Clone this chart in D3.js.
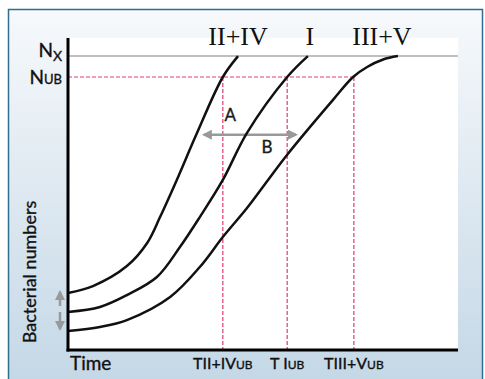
<!DOCTYPE html>
<html>
<head>
<meta charset="utf-8">
<script src="https://cdn.jsdelivr.net/npm/d3@7"></script>
<style>
  body { margin: 0; background: #fff; }
  .serif { font-family: 'Liberation Serif', 'DejaVu Serif', serif; }
  .sans { font-family: Lato, 'Open Sans', sans-serif; stroke: #111; stroke-width: 0.35px; }
</style>
</head>
<body>
<svg id="chart" width="485" height="379"></svg>
<script>
// growth curves: time (0-100) vs log bacterial numbers (0-100)
const seriesNames = ["II+IV", "I", "III+V"];
const curveII_IV = [[0, 18.3], [6.4, 20.5], [15.1, 26.9], [20.3, 34.3], [23.6, 42.6], [27.9, 54.5], [33.1, 69.6], [39.7, 87.5], [43.6, 94.2]];
const curveI = [[0, 12.2], [8.2, 13.8], [15.1, 17.6], [22.8, 23.4], [28.7, 33.0], [33.8, 42.6], [39.7, 54.5], [45.9, 69.6], [56.2, 87.5], [61.5, 94.2]];
const curveIII_V = [[0, 6.1], [8.2, 7.4], [15.1, 9.6], [26.2, 17.0], [33.8, 26.6], [39.7, 36.2], [45.9, 45.5], [51.3, 54.5], [56.2, 62.6], [67.9, 80.1], [73.1, 87.5], [76.7, 90.7], [80.8, 93.1], [84.6, 94.2]];
const labelTimes = [43.6, 62.0, 80.5];   // where the series names sit
const nX = 94.2;
const nUB = 87.5;
const ubTimes = [39.7, 56.2, 73.3];
const ubLabels = [["TII+IV", "UB"], ["T I", "UB"], ["TIII+V", "UB"]];
const arrowAB = [33.3, 60.0, 69.0];      // from, to, level

const svg = d3.select("#chart");

const x = d3.scaleLinear().domain([0, 100]).range([68, 458]);
const y = d3.scaleLinear().domain([0, 100]).range([350, 38]);

// background panel
const defs = svg.append("defs");
const grad = defs.append("linearGradient").attr("id", "bg")
  .attr("x1", 0).attr("y1", 0).attr("x2", 0).attr("y2", 1);
grad.append("stop").attr("offset", "0%").attr("stop-color", "#f7f9fb");
grad.append("stop").attr("offset", "100%").attr("stop-color", "#c3d7e6");

defs.append("marker").attr("id", "head")
  .attr("viewBox", "0 0 10 10").attr("refX", 8).attr("refY", 5)
  .attr("markerWidth", 4).attr("markerHeight", 4).attr("orient", "auto-start-reverse")
  .append("path").attr("d", "M0,0 L10,5 L0,10 z").attr("fill", "#999");

svg.append("rect").attr("x", 8.5).attr("y", 9.5).attr("width", 474).attr("height", 380)
  .attr("fill", "url(#bg)").attr("stroke", "#2f6e8f").attr("stroke-width", 1.5);

svg.append("rect").attr("x", x(0)).attr("y", y(100))
  .attr("width", x(100) - x(0)).attr("height", y(0) - y(100)).attr("fill", "#fff");

// N_X line
svg.append("line").attr("x1", x(0)).attr("x2", x(100))
  .attr("y1", y(nX)).attr("y2", y(nX)).attr("stroke", "#aaa").attr("stroke-width", 1.5);

// N_UB and time markers
const pink = "#e03a72";
svg.append("line").attr("x1", x(0)).attr("x2", x(d3.max(ubTimes)))
  .attr("y1", y(nUB)).attr("y2", y(nUB))
  .attr("stroke", pink).attr("stroke-width", 1.2).attr("stroke-dasharray", "4,2");
svg.selectAll(".ub").data(ubTimes).join("line")
  .attr("x1", d => x(d)).attr("x2", d => x(d))
  .attr("y1", y(nUB)).attr("y2", y(0))
  .attr("stroke", pink).attr("stroke-width", 1.2).attr("stroke-dasharray", "4,2");

// A/B arrow
svg.append("line").attr("x1", x(arrowAB[0]) + 6).attr("x2", x(arrowAB[1]) - 6)
  .attr("y1", y(arrowAB[2])).attr("y2", y(arrowAB[2]))
  .attr("stroke", "#999").attr("stroke-width", 2.5)
  .attr("marker-start", "url(#head)").attr("marker-end", "url(#head)");

// curves
const line = d3.line().x(d => x(d[0])).y(d => y(d[1])).curve(d3.curveCatmullRom.alpha(0.5));
svg.selectAll(".curve").data([curveII_IV, curveI, curveIII_V]).join("path")
  .attr("d", line).attr("fill", "none").attr("stroke", "#111").attr("stroke-width", 2.5);

// axes
svg.append("line").attr("x1", x(0)).attr("x2", x(0)).attr("y1", y(100)).attr("y2", y(0) + 1.5)
  .attr("stroke", "#000").attr("stroke-width", 3);
svg.append("line").attr("x1", x(0) - 1.5).attr("x2", x(100)).attr("y1", y(0)).attr("y2", y(0))
  .attr("stroke", "#000").attr("stroke-width", 3);

// series names
svg.selectAll(".sname").data(seriesNames).join("text")
  .attr("class", "serif").attr("x", (d, i) => x(labelTimes[i])).attr("y", 45)
  .attr("text-anchor", "middle").attr("font-size", 26).attr("fill", "#111").text(d => d);

svg.append("text").attr("class", "sans").attr("x", x(41.6)).attr("y", y(73.5))
  .attr("text-anchor", "middle").attr("font-size", 17).attr("fill", "#222").text("A");
svg.append("text").attr("class", "sans").attr("x", x(51.0)).attr("y", y(63))
  .attr("text-anchor", "middle").attr("font-size", 17).attr("fill", "#222").text("B");

// y labels
const yl = svg.append("g").attr("class", "sans").attr("fill", "#111");
const nx = yl.append("text").attr("x", 62).attr("y", y(nX) + 1).attr("text-anchor", "end").attr("font-size", 19);
nx.append("tspan").text("N");
nx.append("tspan").attr("font-size", 14).attr("dy", 4).text("X");
const nub = yl.append("text").attr("x", 62).attr("y", y(nUB) + 7).attr("text-anchor", "end").attr("font-size", 19);
nub.append("tspan").text("N");
nub.append("tspan").attr("font-size", 13).text("UB");

svg.append("text").attr("class", "sans")
  .attr("transform", `translate(36,${272}) rotate(-90)`)
  .attr("text-anchor", "middle").attr("font-size", 18).attr("fill", "#111").text("Bacterial numbers");

// inoculum arrows
svg.append("line").attr("x1", 60).attr("x2", 60).attr("y1", 306).attr("y2", 292)
  .attr("stroke", "#999").attr("stroke-width", 2.5).attr("marker-end", "url(#head)");
svg.append("line").attr("x1", 60).attr("x2", 60).attr("y1", 312).attr("y2", 329)
  .attr("stroke", "#999").attr("stroke-width", 2.5).attr("marker-end", "url(#head)");

// x labels
svg.append("text").attr("class", "sans").attr("x", x(0) + 2).attr("y", 370)
  .attr("font-size", 19).attr("fill", "#111").text("Time");
svg.selectAll(".xl").data(ubLabels).join("text")
  .attr("class", "sans").attr("x", (d, i) => x(ubTimes[i])).attr("y", 369)
  .attr("text-anchor", "middle").attr("font-size", 16).attr("fill", "#111")
  .each(function (d) {
    const t = d3.select(this);
    t.append("tspan").text(d[0]);
    t.append("tspan").attr("font-size", 12).text(d[1]);
  });
</script>
</body>
</html>
